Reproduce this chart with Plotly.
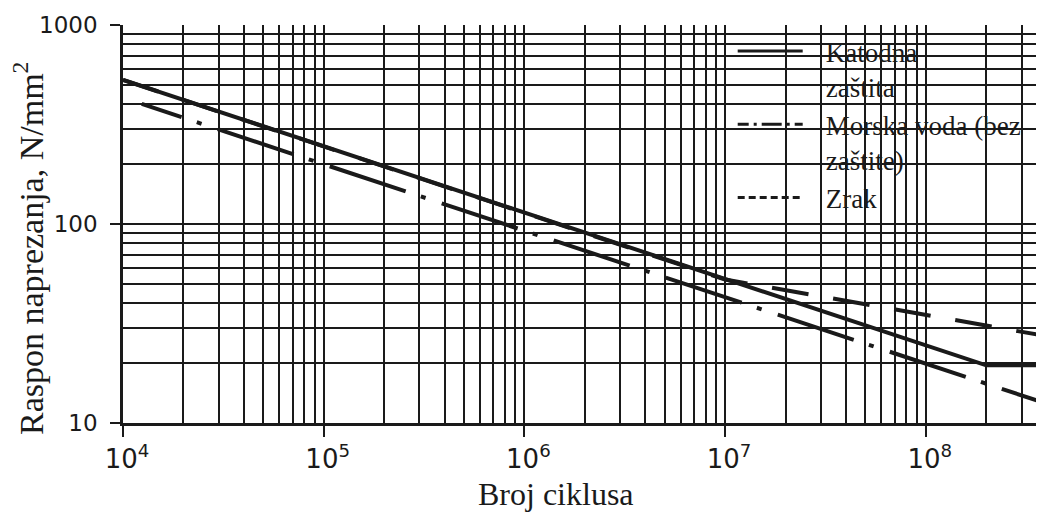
import math
import plotly.graph_objects as go

# ---- data ----
N_katodna = [1e4, 2e8, 4e8]
S_katodna = [530, 19.5, 19.5]

N_morska = [1.24e4, 4e8]
S_morska = [401, 12.5]

N_zrak = [1e4, 1e7, 4e8]
S_zrak = [530, 52.6, 27.3]

names = ["Katodna<br>zaštita", "Morska voda (bez<br>zaštite)", "Zrak"]

x_decades = [4, 5, 6, 7, 8]
x_ticktext = ["10<sup>%d</sup>" % e for e in x_decades]
y_tickvals = [10, 100, 1000]
y_ticktext = ["10", "100", "1000"]

x_min, x_max = 1e4, 3.88e8
y_min, y_max = 10, 1000

# ---- styles ----
INK = "#1a1a1a"
morska_dash = ",".join(["42px", "16px", "5px", "17px"] + ["80px", "16px", "5px", "17px"] * 12)
zrak_dash = "37px,25px"

fig = go.Figure()
fig.add_trace(go.Scatter(x=N_zrak, y=S_zrak, mode="lines", showlegend=False,
                         line=dict(color=INK, width=4, dash=zrak_dash)))
fig.add_trace(go.Scatter(x=N_morska, y=S_morska, mode="lines", showlegend=False,
                         line=dict(color=INK, width=4, dash=morska_dash)))
fig.add_trace(go.Scatter(x=N_katodna, y=S_katodna, mode="lines", showlegend=False,
                         line=dict(color=INK, width=4)))

# legend entries (legend-only samples; each sample ends with a blank gap before the text)
legend_dash = [
    "65px,60px",
    "11px,5px,3px,5px,20px,5px,3px,5px,8px,60px",
    "7px,4px,7px,4px,7px,4px,7px,4px,7px,4px,7px,60px",
]
for nm, dsh in zip(names, legend_dash):
    fig.add_trace(go.Scatter(x=[None], y=[None], mode="lines", name=nm,
                             line=dict(color=INK, width=3, dash=dsh)))

x_minor = [k * 10 ** e for e in range(4, 9) for k in range(2, 10)]
y_minor = [k * 10 ** e for e in range(1, 3) for k in range(2, 10)]

fig.update_xaxes(type="log", range=[math.log10(x_min), math.log10(x_max)],
                 tickvals=[10 ** e for e in x_decades], ticktext=x_ticktext,
                 ticks="outside", ticklen=11, tickwidth=2, tickcolor=INK,
                 showgrid=True, gridcolor=INK, gridwidth=1.8,
                 minor=dict(tickvals=x_minor, showgrid=True, gridcolor=INK, gridwidth=1.8, ticks=""),
                 showline=True, linecolor=INK, linewidth=3,
                 tickfont=dict(family="DejaVu Sans", size=26, color=INK),
                 ticklabelshift=4,
                 zeroline=False, automargin=False)
fig.update_yaxes(type="log", range=[math.log10(y_min), math.log10(y_max)],
                 tickvals=y_tickvals, ticktext=y_ticktext,
                 ticks="outside", ticklen=10, tickwidth=2, tickcolor=INK,
                 showgrid=True, gridcolor=INK, gridwidth=1.8,
                 minor=dict(tickvals=y_minor, showgrid=True, gridcolor=INK, gridwidth=1.8, ticks=""),
                 showline=True, linecolor=INK, linewidth=2.5,
                 tickfont=dict(family="DejaVu Sans", size=23, color=INK),
                 ticklabelstandoff=8,
                 zeroline=False, automargin=False)

# white area behind legend (covers the grid there)
fig.add_shape(type="rect", xref="paper", yref="paper", x0=0.657, x1=1.05, y0=0.51, y1=1.05,
              fillcolor="white", line=dict(width=0), layer="between")

fig.add_annotation(text="Broj ciklusa", xref="paper", yref="paper", x=0.470, y=-0.178,
                   showarrow=False, xanchor="center", yanchor="middle",
                   font=dict(family="Liberation Serif", size=32, color=INK))
fig.add_annotation(text="Raspon naprezanja, N/mm<sup>2</sup>", xref="paper", yref="paper",
                   x=-0.103, y=0.44, textangle=-90, showarrow=False,
                   xanchor="center", yanchor="middle",
                   font=dict(family="Liberation Serif", size=34, color=INK))

# page body has an 8px margin: shift the figure so the plot lands where the reference has it
fig.update_layout(
    width=1044, height=512,
    margin=dict(l=115, r=8, t=17, b=97),
    paper_bgcolor="white", plot_bgcolor="white",
    showlegend=True,
    legend=dict(x=0.662, y=0.995, xanchor="left", yanchor="top",
                bgcolor="rgba(0,0,0,0)", borderwidth=0, itemwidth=83,
                valign="top", traceorder="normal",
                font=dict(family="Liberation Serif", size=27, color=INK)),
)

fig.write_html("out.html")
